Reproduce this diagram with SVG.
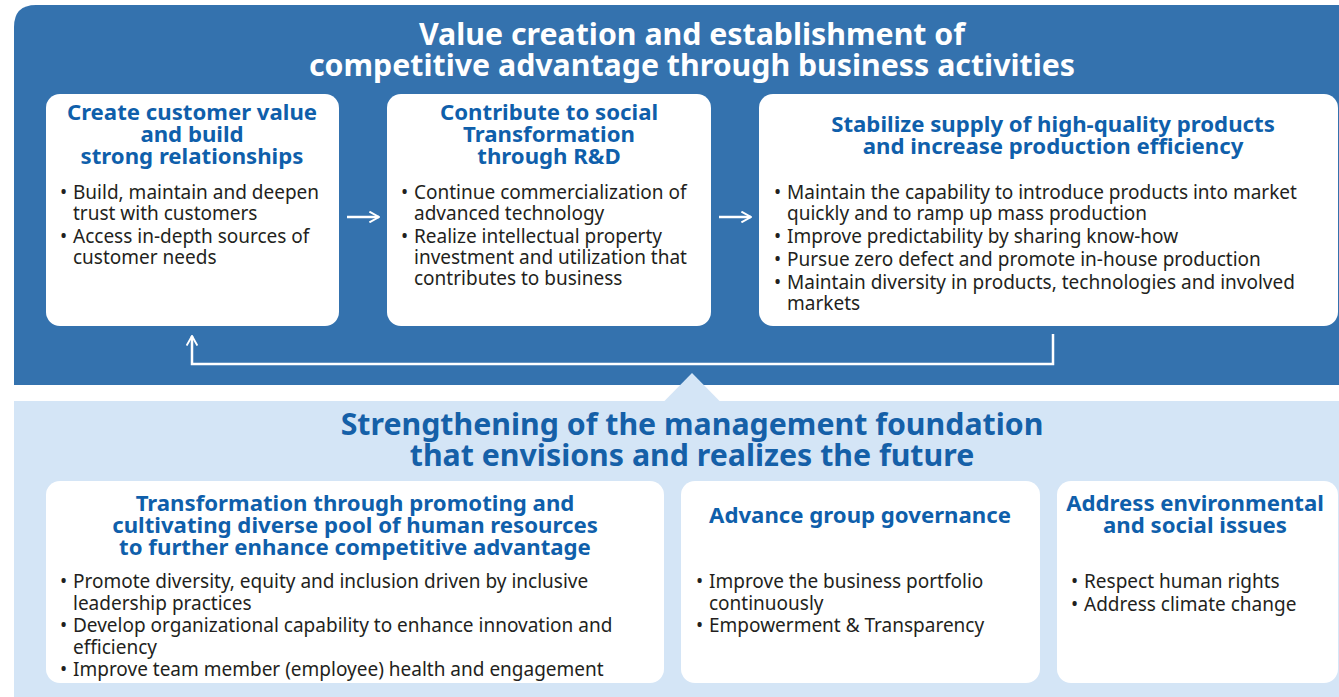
<svg xmlns="http://www.w3.org/2000/svg" width="1339" height="697" viewBox="0 0 1339 697">
<style>
.title{font-family:"Noto Sans","Liberation Sans",sans-serif;font-weight:bold;font-size:30.3px;text-anchor:middle}
.head{font-family:"Noto Sans","Liberation Sans",sans-serif;font-weight:bold;font-size:22.2px;fill:#0f5fab;text-anchor:middle}
.txt{font-family:"Noto Sans","Liberation Sans",sans-serif;font-size:19px;fill:#231f20}
.box{fill:#ffffff}
.conn{fill:none;stroke:#ffffff;stroke-width:2.5}
</style>
<defs>
<marker id="ah" viewBox="0 0 10 10" refX="9" refY="5" markerWidth="12" markerHeight="12" markerUnits="userSpaceOnUse" orient="auto">
<path d="M1,0.5 L9,5 L1,9.5" fill="none" stroke="#ffffff" stroke-width="1.6"/>
</marker>
</defs>
<rect width="1339" height="697" fill="#ffffff"/>
<g id="top-panel">
<path d="M14,385 L14,27 Q14,5 36,5 L1339,5 L1339,385 Z" fill="#3472ae"/>
<text class="title" fill="#ffffff" x="692" y="45">Value creation and establishment of</text>
<text class="title" fill="#ffffff" x="692" y="76">competitive advantage through business activities</text>
</g>
<g id="bottom-panel">
<rect x="14" y="401" width="1325" height="296" fill="#d4e5f6"/>
<path d="M664,401.5 L692,373 L720,401.5 Z" fill="#d4e5f6"/>
<text class="title" fill="#1560a8" x="692" y="435">Strengthening of the management foundation</text>
<text class="title" fill="#1560a8" x="692" y="466">that envisions and realizes the future</text>
</g>
<g id="node-customer-value">
<rect class="box" x="46" y="94" width="293" height="232" rx="14"/>
<text class="head" x="192" y="120">Create customer value</text>
<text class="head" x="192" y="142">and build</text>
<text class="head" x="192" y="164">strong relationships</text>
<text class="txt" x="60" y="199">•</text><text class="txt" x="73" y="199">Build, maintain and deepen</text>
<text class="txt" x="73" y="220">trust with customers</text>
<text class="txt" x="60" y="243">•</text><text class="txt" x="73" y="243">Access in-depth sources of</text>
<text class="txt" x="73" y="264">customer needs</text>
</g>
<g id="node-rd">
<rect class="box" x="387" y="94" width="324" height="232" rx="14"/>
<text class="head" x="549" y="120">Contribute to social</text>
<text class="head" x="549" y="142">Transformation</text>
<text class="head" x="549" y="164">through R&amp;D</text>
<text class="txt" x="401" y="199">•</text><text class="txt" x="414" y="199">Continue commercialization of</text>
<text class="txt" x="414" y="220">advanced technology</text>
<text class="txt" x="401" y="243">•</text><text class="txt" x="414" y="243">Realize intellectual property</text>
<text class="txt" x="414" y="264">investment and utilization that</text>
<text class="txt" x="414" y="285">contributes to business</text>
</g>
<g id="node-supply">
<rect class="box" x="759" y="94" width="579" height="232" rx="14"/>
<text class="head" x="1053" y="132">Stabilize supply of high-quality products</text>
<text class="head" x="1053" y="154">and increase production efficiency</text>
<text class="txt" x="774" y="199">•</text><text class="txt" x="787" y="199">Maintain the capability to introduce products into market</text>
<text class="txt" x="787" y="220">quickly and to ramp up mass production</text>
<text class="txt" x="774" y="243">•</text><text class="txt" x="787" y="243">Improve predictability by sharing know-how</text>
<text class="txt" x="774" y="266">•</text><text class="txt" x="787" y="266">Pursue zero defect and promote in-house production</text>
<text class="txt" x="774" y="289">•</text><text class="txt" x="787" y="289">Maintain diversity in products, technologies and involved</text>
<text class="txt" x="787" y="310">markets</text>
</g>
<g id="node-human-resources">
<rect class="box" x="46" y="481" width="618" height="202" rx="14"/>
<text class="head" x="355" y="511">Transformation through promoting and</text>
<text class="head" x="355" y="533">cultivating diverse pool of human resources</text>
<text class="head" x="355" y="555">to further enhance competitive advantage</text>
<text class="txt" x="60" y="588">•</text><text class="txt" x="73" y="588">Promote diversity, equity and inclusion driven by inclusive</text>
<text class="txt" x="73" y="610">leadership practices</text>
<text class="txt" x="60" y="632">•</text><text class="txt" x="73" y="632">Develop organizational capability to enhance innovation and</text>
<text class="txt" x="73" y="654">efficiency</text>
<text class="txt" x="60" y="676">•</text><text class="txt" x="73" y="676">Improve team member (employee) health and engagement</text>
</g>
<g id="node-governance">
<rect class="box" x="681" y="481" width="359" height="202" rx="14"/>
<text class="head" x="860" y="523">Advance group governance</text>
<text class="txt" x="696" y="588">•</text><text class="txt" x="709" y="588">Improve the business portfolio</text>
<text class="txt" x="709" y="610">continuously</text>
<text class="txt" x="696" y="632">•</text><text class="txt" x="709" y="632">Empowerment &amp; Transparency</text>
</g>
<g id="node-environment">
<rect class="box" x="1057" y="481" width="281" height="202" rx="14"/>
<text class="head" x="1195" y="511">Address environmental</text>
<text class="head" x="1195" y="533">and social issues</text>
<text class="txt" x="1071" y="588">•</text><text class="txt" x="1084" y="588">Respect human rights</text>
<text class="txt" x="1071" y="611">•</text><text class="txt" x="1084" y="611">Address climate change</text>
</g>
<g id="connectors">
<line class="conn" x1="347" y1="217" x2="379" y2="217" marker-end="url(#ah)"/>
<line class="conn" x1="719" y1="217" x2="751" y2="217" marker-end="url(#ah)"/>
<path class="conn" d="M1053,334 L1053,364 L192,364 L192,336" marker-end="url(#ah)"/>
</g>
</svg>
